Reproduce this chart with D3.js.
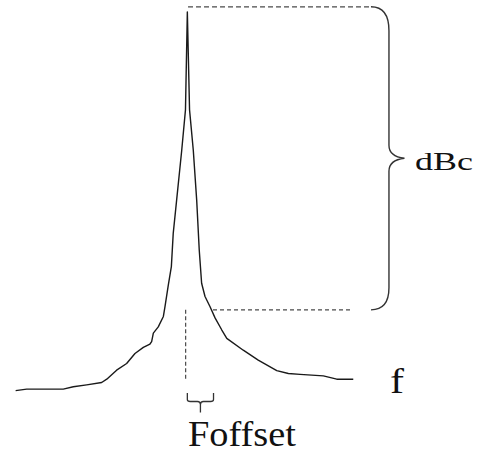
<!DOCTYPE html>
<html>
<head>
<meta charset="utf-8">
<script src="https://cdn.jsdelivr.net/npm/d3@7"></script>
<style>
  html, body { margin: 0; padding: 0; background: #fff; }
  svg { display: block; }
</style>
</head>
<body>
<svg id="chart" width="482" height="454"></svg>
<script>
// Spectrum around the carrier: frequency offset (arbitrary units) and level (dB)
const freqOffset = [-100.8, -94.3, -72.8, -66.9, -59.0, -50.2, -47.2, -41.4, -35.5, -30.6, -25.7, -21.8, -20.8, -19.8, -16.9, -13.9, -12.9, -11.0, -9.2, -8.1, -6.1, -3.1, -0.9, 0.2,
                    1.5, 3.7, 5.7, 7.2, 8.6, 10.6, 13.5, 16.5, 20.4, 23.4, 33.1, 41.9, 52.8, 59.6, 66.5, 80.2, 88.1, 97.8];
const levelDb    = [-79.7, -79.4, -79.4, -78.9, -78.5, -78.0, -77.3, -75.4, -74.0, -71.9, -70.6, -69.9, -69.4, -67.6, -66.3, -64.1, -61.9, -57.5, -53.6, -46.6, -39.6, -29.1, -20.6, 0,
                    -20.6, -29.1, -39.6, -50.1, -57.1, -59.9, -62.0, -64.4, -66.9, -68.7, -71.2, -73.3, -75.5, -76.1, -76.3, -76.6, -77.3, -77.3];

// Annotation values
const carrierDb = 1.1;        // top reference (carrier level)
const offsetDb = -62.7;       // level at the offset frequency
const offsetF = 15.3;         // offset frequency
const topLineEndF = 107.6;
const offsetLineEndF = 97;
const braceF = 118.8;
const labels = ["dBc", "f", "Foffset"];

const svg = d3.select("#chart");
const x = d3.scaleLinear().domain([-100, 100]).range([17, 357]);
const y = d3.scaleLinear().domain([-80, 0]).range([392, 12]);

const pts = freqOffset.map((f, i) => [f, levelDb[i]]);

// spectrum curve
svg.append("path")
  .datum(pts)
  .attr("fill", "none")
  .attr("stroke", "#1a1a1a")
  .attr("stroke-width", 1.4)
  .attr("stroke-linejoin", "round")
  .attr("d", d3.line().x(d => x(d[0])).y(d => y(d[1])));

// dashed reference lines
const dash = (x1, y1, x2, y2, da) => svg.append("line")
  .attr("x1", x1).attr("y1", y1).attr("x2", x2).attr("y2", y2)
  .attr("stroke", "#4a4a4a").attr("stroke-width", 1.2)
  .attr("stroke-dasharray", da);

dash(x(0.6), y(carrierDb), x(topLineEndF), y(carrierDb), "5,3");
dash(x(offsetF), y(offsetDb), x(offsetLineEndF), y(offsetDb), "4,3");
dash(x(-0.8), y(offsetDb), x(-0.8), y(-77.5), "4,2.5");

// big brace for dBc
const bx = x(braceF), yt = y(carrierDb), yb = y(offsetDb), ym = (yt + yb) / 2;
const bl = bx - 18, tip = bx + 15.5;
svg.append("path")
  .attr("fill", "none").attr("stroke", "#333").attr("stroke-width", 1.4)
  .attr("d", `M${bl},${yt} C${bl + 12},${yt} ${bx},${yt + 8} ${bx},${yt + 24}
              L${bx},${ym - 13} C${bx},${ym - 5} ${bx + 7},${ym - 1} ${tip},${ym}
              C${bx + 7},${ym + 1} ${bx},${ym + 5} ${bx},${ym + 13}
              L${bx},${yb - 22} C${bx},${yb - 8} ${bx - 6},${yb} ${bl},${yb}`);

// small bracket for Foffset
const fx0 = x(0.2), fx1 = x(offsetF + 0.3), fm = (fx0 + fx1) / 2;
const by0 = y(-80) + 1, by1 = by0 + 8.5;
svg.append("path")
  .attr("fill", "none").attr("stroke", "#333").attr("stroke-width", 1.3)
  .attr("d", `M${fx0},${by0} L${fx0},${by1 - 2} Q${fx0},${by1} ${fx0 + 3},${by1} L${fm - 3},${by1} Q${fm},${by1} ${fm},${by1 + 3} L${fm},${by1 + 11}
              M${fm},${by1 + 3} Q${fm},${by1} ${fm + 3},${by1} L${fx1 - 3},${by1} Q${fx1},${by1} ${fx1},${by1 - 2} L${fx1},${by0}`);

// labels: serif text, stretched horizontally to the reference widths
const label = (tx, ty, size, len, s) => {
  const g = svg.append("g");
  const t = g.append("text")
    .style("font-family", "'Liberation Serif', 'Times New Roman', serif")
    .style("font-size", size + "px")
    .attr("fill", "#111")
    .text(s);
  const w = t.node().getComputedTextLength() || len;
  g.attr("transform", `translate(${tx},${ty}) scale(${len / w},1)`);
};

label(tip + 10.5, ym + 12, 26, 58, labels[0]);
label(390, 393, 36, 14, labels[1]);
label(188, 446, 36, 108, labels[2]);
</script>
</body>
</html>
